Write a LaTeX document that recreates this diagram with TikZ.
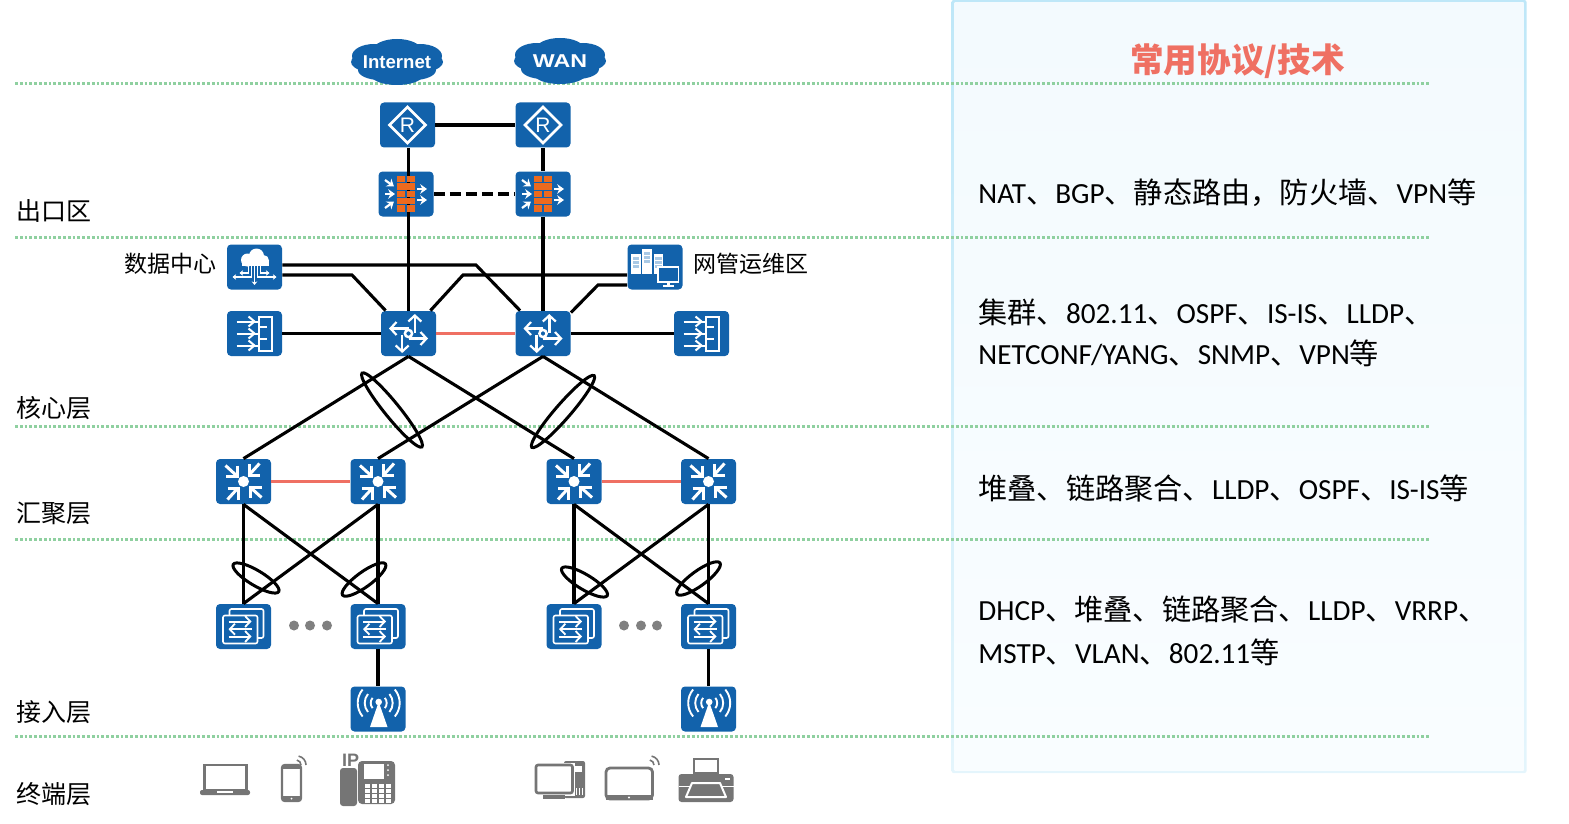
\documentclass[tikz,border=0pt]{standalone}
\usepackage{fontspec}
\setmainfont{Carlito}
\newfontfamily\cjk{Noto Sans CJK SC}
\newfontfamily\arialfont{Liberation Sans}
\usetikzlibrary{arrows.meta}
\newcommand{\zh}[1]{{\cjk #1}}

\definecolor{devblue}{HTML}{1262AB}
\definecolor{wallorange}{HTML}{EC6A1E}
\definecolor{stackred}{HTML}{EF7063}
\definecolor{layergreen}{HTML}{8FD0A0}
\definecolor{termgray}{HTML}{757575}
\definecolor{dotgray}{HTML}{808080}
\definecolor{stripeblue}{HTML}{A9C9E5}
\definecolor{paneledge}{HTML}{BEE7F8}
\definecolor{paneledgelow}{HTML}{E4F5FC}
\definecolor{panelfill}{HTML}{F3FAFE}
\definecolor{panelfilllow}{HTML}{F9FDFF}

\tikzset{
    devbox/.style={rectangle,rounded corners=2pt,fill=devblue,minimum width=27.5pt,minimum height=22.5pt,inner sep=0pt},
    link/.style={draw=black,line width=1.55pt},
    stacklink/.style={draw=stackred,line width=1.6pt},
    lagring/.style={draw=black,line width=1.5pt},
    layerline/.style={draw=layergreen,line width=1.5pt,dash pattern=on 1.4pt off 1pt},
    layerlabel/.style={anchor=west,inner sep=0pt,font=\cjk\fontsize{12.5}{15}\selectfont},
    sidelabel/.style={inner sep=0pt,font=\cjk\fontsize{11.5}{14}\selectfont},
    paneltext/.style={anchor=west,inner sep=0pt,font=\fontsize{14.6}{17}\selectfont},
    cloudtext/.style={inner sep=0pt,text=white,font=\arialfont\bfseries\fontsize{9.3}{11}\selectfont},
    iconline/.style={draw=white,line width=1.25pt},
    thinline/.style={draw=white,line width=0.6pt},
    barb/.style={-{Straight Barb[length=3pt,width=6.5pt,line width=1.1pt]}},
    smallbarb/.style={-{Straight Barb[length=2.6pt,width=5.5pt,line width=0.9pt]}},
    smallhead/.style={-{Stealth[length=3.4pt,width=4.8pt]}},
    tinyhead/.style={-{Stealth[length=1.8pt,width=2.8pt]}},
    % the white drawings that sit on the blue boxes
    cloudshape/.pic={
        \fill[devblue] (0,0) ellipse [x radius=46,y radius=14];
        \fill[devblue] (-23,-6) ellipse [x radius=22,y radius=12];
        \fill[devblue] (23,-6) ellipse [x radius=22,y radius=12];
        \fill[devblue] (0,-12) ellipse [x radius=24,y radius=11];
        \fill[devblue] (-17,8) ellipse [x radius=22,y radius=10];
        \fill[devblue] (17,8) ellipse [x radius=22,y radius=10];
        \fill[devblue] (0,13) ellipse [x radius=26,y radius=10];
    },
    routericon/.pic={
        \draw[iconline,line join=miter] (-18,0) -- (0,-18) -- (18,0) -- (0,18) -- cycle;
        \node[inner sep=0pt,text=white,font=\arialfont\fontsize{10.5}{12}\selectfont] (-letter) at (0,0) {R};
    },
    wallicon/.pic={
        \foreach \y in {-18,-3.4,11.2} {
            \fill[wallorange] (-9,\y) rectangle (-0.7,\y+6.4);
            \fill[wallorange] (0.7,\y) rectangle (9,\y+6.4);
        }
        \foreach \y in {-10.7,3.9} \fill[wallorange] (-9,\y) rectangle (9,\y+6.4);
        \draw[iconline,smallhead,line width=1.1pt] (-21,-14) -- (-12,-7.5);
        \draw[iconline,smallhead,line width=1.1pt] (-21,0) -- (-11,0);
        \draw[iconline,smallhead,line width=1.1pt] (-21,14) -- (-12,7.5);
        \draw[iconline,smallhead,line width=1.1pt] (11,-5) -- (21,-5);
        \draw[iconline,smallhead,line width=1.1pt] (11,6) -- (21,6);
    },
    coreicon/.pic={
        \draw[iconline] (0,0) circle (3.6);
        \draw[iconline,barb] (6.3,-1) -- (6.3,-19.5);
        \draw[iconline,barb] (0,5) -- (19.5,5);
        \draw[iconline,barb] (-6.3,1) -- (-6.3,19.5);
        \draw[iconline,barb] (0,-5) -- (-19.5,-5);
    },
    aggicon/.pic={
        \fill[white] (0,0) circle (5.5);
        \foreach \a in {0,90,180,270} {
            \draw[iconline,line width=1.5pt,rotate=\a,line join=miter] (-6.5,-16) -- (-6.5,-5.5) -- (-18,-5.5);
            \draw[iconline,line width=1.5pt,rotate=\a] (-6.5,-5.5) -- (-18,-16);
        }
    },
    bypassicon/.pic={
        \draw[iconline,line width=1pt] (4,-17) rectangle (17,17);
        \foreach \y in {-12,0,12} {
            \draw[thinline,line width=1pt] (-18,\y) -- (4,\y);
            \draw[thinline,line width=1pt] (-6,\y-5) -- (0,\y) -- (-6,\y+5);
            \draw[thinline,line width=1pt] (4,\y+5) -- (12,\y+5);
        }
    },
    dcicon/.pic={
        \fill[white] (-7,-7) circle (6.5);
        \fill[white] (2,-11) circle (7.5);
        \fill[white] (9,-6.5) circle (5.5);
        \fill[white] (-13,-6) rectangle (14,-1);
        \draw[thinline,tinyhead] (0,-1) -- (0,18);
        \draw[thinline,tinyhead] (-3,-1) -- (-3,10) -- (-22,10);
        \draw[thinline,tinyhead] (3,-1) -- (3,10) -- (22,10);
        \draw[thinline,tinyhead] (-6,-1) -- (-6,6) -- (-15,6);
        \draw[thinline,tinyhead] (6,-1) -- (6,6) -- (15,6);
    },
    opsicon/.pic={
        \foreach \xa/\ya in {-24/-13,-13/-18,-1.5/-13} {
            \fill[white] (\xa,\ya) rectangle (\xa+9.5,7);
            \fill[stripeblue] (\xa+1.5,\ya+3) rectangle (\xa+8,\ya+5.5);
            \fill[stripeblue] (\xa+1.5,\ya+7) rectangle (\xa+8,\ya+9.5);
            \fill[stripeblue] (\xa+1.5,\ya+11) rectangle (\xa+8,\ya+13.5);
        }
        \draw[iconline,line width=0.8pt,fill=devblue] (3,0) rectangle (23.5,15);
        \fill[white] (12,15) rectangle (14.5,18);
        \fill[white] (8,18) rectangle (18.5,19.5);
    },
    stackicon/.pic={
        \draw[thinline,line width=0.8pt,rounded corners=1pt] (-14,-17.5) rectangle (20,11.5);
        \draw[thinline,line width=0.8pt,rounded corners=1pt,fill=devblue] (-20.5,-11) rectangle (14,17);
        \draw[thinline,line width=1pt,smallbarb] (-15,-5) -- (8,-5);
        \draw[thinline,line width=1pt,smallbarb] (8,2.7) -- (-15,2.7);
        \draw[thinline,line width=1pt,smallbarb] (-15,10) -- (8,10);
    },
    apicon/.pic={
        \fill[white] (0.7,-7) circle (3.3);
        \fill[white] (0.7,-7) -- (-8,18) -- (9.5,18) -- cycle;
        \foreach \r in {8,14,21} {
            \draw[thinline,line width=0.95pt] (0.7,-6) ++(-40:\r) arc [start angle=-40,end angle=40,radius=\r];
            \draw[thinline,line width=0.95pt] (0.7,-6) ++(140:\r) arc [start angle=140,end angle=220,radius=\r];
        }
    },
}

\begin{document}
\begin{tikzpicture}[x=0.5pt,y=-0.5pt]
    \useasboundingbox (0,0) rectangle (1569,824);

    % Right panel
    \shade[top color=paneledge,bottom color=paneledgelow,rounded corners=1pt] (951.5,0) rectangle (1526.5,773);
    \shade[top color=panelfill,bottom color=panelfilllow] (954.5,3) rectangle (1523.5,770);

    % Layer separators
    \foreach \y in {83.5,237,426.5,539.5,736} \draw[layerline] (15,\y) -- (1430,\y);

    % Layer names
    \node[layerlabel] (exitname) at (16,211) {出口区};
    \node[layerlabel] (corename) at (16,408) {核心层};
    \node[layerlabel] (aggname) at (16,513) {汇聚层};
    \node[layerlabel] (accname) at (16,712) {接入层};
    \node[layerlabel] (termname) at (16,794) {终端层};

    % Clouds
    \pic at (397,62) {cloudshape};
    \node[cloudtext] (internet) at (397,62) {Internet};
    \pic at (560,61) {cloudshape};
    \node[cloudtext,xscale=1.25] (wan) at (560,61.5) {WAN};

    % Exit routers and firewalls
    \node[devbox] (r1) at (407.5,125) {};
    \node[devbox] (r2) at (543,125) {};
    \node[devbox] (fw1) at (406,194) {};
    \node[devbox] (fw2) at (543,194) {};

    % Core
    \node[devbox] (dc) at (254.5,267) {};
    \node[devbox] (ops) at (655,267) {};
    \node[devbox] (byp1) at (254.5,333.5) {};
    \node[devbox] (core1) at (408.5,333.5) {};
    \node[devbox] (core2) at (543,333.5) {};
    \node[devbox] (byp2) at (701.5,333.5) {};
    \node[sidelabel,anchor=east] (dcname) at (216.5,264) {数据中心};
    \node[sidelabel,anchor=west] (opsname) at (693,264) {网管运维区};

    % Aggregation
    \node[devbox] (agg1) at (243.5,481.5) {};
    \node[devbox] (agg2) at (378,481.5) {};
    \node[devbox] (agg3) at (574,481.5) {};
    \node[devbox] (agg4) at (708.5,481.5) {};

    % Access
    \node[devbox] (acc1) at (243.5,626.5) {};
    \node[devbox] (acc2) at (378,626.5) {};
    \node[devbox] (acc3) at (574,626.5) {};
    \node[devbox] (acc4) at (708.5,626.5) {};
    \node[devbox] (ap1) at (378,709) {};
    \node[devbox] (ap2) at (708.5,709) {};

    % Bends of the side links
    \coordinate (dcbend1) at (476,265);
    \coordinate (dcbend2) at (352,275);
    \coordinate (opsbend1) at (463,275);
    \coordinate (opsbend2) at (598,285);

    % Links
    \draw[link] (r1) -- (r2);
    \draw[link] (r1.south -| core1) -- (fw1.south -| core1);
    \draw[link] (r2) -- (fw2);
    \draw[link,dash pattern=on 5.5pt off 2.5pt] (fw1) -- (fw2);
    \draw[link] (fw1.south -| core1) -- (core1);
    \draw[link] (fw2) -- (core2);
    \draw[link] (dcbend1 -| dc.east) -- (dcbend1) -- ([xshift=2.5pt]core2.north west);
    \draw[link] (dcbend2 -| dc.east) -- (dcbend2) -- ([xshift=2.5pt]core1.north west);
    \draw[link] (opsbend1 -| ops.west) -- (opsbend1) -- ([xshift=-3pt]core1.north east);
    \draw[link] (opsbend2 -| ops.west) -- (opsbend2) -- ([yshift=-1pt]core2.north east);
    \draw[link] (byp1) -- (core1);
    \draw[link] (core2) -- (byp2);
    \draw[stacklink] (core1) -- (core2);
    \draw[link] (core1.south) -- (agg1.north);
    \draw[link] (core1.south) -- (agg3.north);
    \draw[link] (core2.south) -- (agg2.north);
    \draw[link] (core2.south) -- (agg4.north);
    \draw[stacklink] (agg1) -- (agg2);
    \draw[stacklink] (agg3) -- (agg4);
    \foreach \up/\low in {agg1/acc1,agg1/acc2,agg2/acc1,agg2/acc2,agg3/acc3,agg3/acc4,agg4/acc3,agg4/acc4}
        \draw[link] (\up.south) -- (\low.north);
    \draw[link] (acc2) -- (ap1);
    \draw[link] (acc4) -- (ap2);

    % Link aggregation rings
    \draw[lagring,rotate around={-51:(392,410)}] (392,410) ellipse [x radius=47.5,y radius=7.5];
    \draw[lagring,rotate around={49:(563,411.5)}] (563,411.5) ellipse [x radius=47.5,y radius=7.5];
    \draw[lagring,rotate around={-31:(256,578)}] (256,578) ellipse [x radius=26.5,y radius=7.5];
    \draw[lagring,rotate around={36:(364,579.5)}] (364,579.5) ellipse [x radius=26.5,y radius=7.5];
    \draw[lagring,rotate around={-31:(584.5,582)}] (584.5,582) ellipse [x radius=26.5,y radius=7.5];
    \draw[lagring,rotate around={36:(698.5,578.5)}] (698.5,578.5) ellipse [x radius=26.5,y radius=7.5];

    % Icons on the boxes
    \pic (r1i) at (r1) {routericon};
    \pic (r2i) at (r2) {routericon};
    \pic at (fw1) {wallicon};
    \pic at (fw2) {wallicon};
    \pic at (dc) {dcicon};
    \pic at (ops) {opsicon};
    \pic at (byp1) {bypassicon};
    \pic at (byp2) {bypassicon};
    \pic at (core1) {coreicon};
    \pic at (core2) {coreicon};
    \foreach \n in {agg1,agg2,agg3,agg4} \pic at (\n) {aggicon};
    \foreach \n in {acc1,acc2,acc3,acc4} \pic at (\n) {stackicon};
    \pic at (ap1) {apicon};
    \pic at (ap2) {apicon};

    % Dots between the access switches
    \foreach \x in {294,310,327,624,641,657} \fill[dotgray] (\x,625.5) circle (5);

    % Terminals: laptop
    \draw[termgray,line width=1.2pt] (204.5,765) rectangle (246.5,790);
    \fill[termgray,rounded corners=1pt] (200,790) rectangle (250,795);
    \fill[white] (217,790.5) rectangle (233,792.5);

    % Terminals: phone
    \draw[termgray,line width=1.2pt,rounded corners=1.5pt] (282,765) rectangle (301,801);
    \fill[termgray] (282,765) rectangle (301,769);
    \fill[termgray] (282,796) rectangle (301,801);
    \fill[white] (291.5,798.5) circle (1);
    \draw[termgray,line width=0.8pt] (301,765) arc [start angle=0,end angle=-80,radius=5];
    \draw[termgray,line width=0.8pt] (306,765) arc [start angle=0,end angle=-80,radius=9];

    % Terminals: IP phone
    \node[inner sep=0pt,text=termgray,font=\arialfont\bfseries\fontsize{9}{10}\selectfont] (iptext) at (350.5,760) {IP};
    \fill[termgray,rounded corners=1.5pt] (340,768) rectangle (357,806);
    \fill[termgray,rounded corners=2pt] (358,761) rectangle (395,804);
    \fill[white] (364,764) rectangle (384,779);
    \foreach \x in {365,372,379,386} \foreach \y in {784,789,794,799} \fill[white] (\x,\y) rectangle (\x+5,\y+3.5);
    \foreach \y in {765,770,775} \fill[white] (388,\y) circle (1);

    % Terminals: desktop
    \fill[termgray,rounded corners=1pt] (564,761) rectangle (585,798);
    \fill[white] (572,766) rectangle (582,772);
    \foreach \x in {573,576,579,582} \fill[white] (\x,788) rectangle (\x+1,795);
    \fill[white] (533.5,763) rectangle (575,796);
    \draw[termgray,line width=1.3pt,rounded corners=1pt] (536,765) rectangle (572.5,793);
    \fill[termgray] (543,795) rectangle (565,799);

    % Terminals: tablet
    \draw[termgray,line width=1.4pt,rounded corners=2pt] (606,768) rectangle (652.5,799);
    \fill[termgray] (606,795) rectangle (652.5,800);
    \fill[white] (629,797.5) circle (1.2);
    \draw[termgray,line width=0.8pt] (654,765) arc [start angle=0,end angle=-80,radius=5];
    \draw[termgray,line width=0.8pt] (659,765) arc [start angle=0,end angle=-80,radius=9];

    % Terminals: printer
    \draw[termgray,line width=1pt] (694,759) rectangle (718,773);
    \fill[termgray,rounded corners=1.5pt] (678.5,774) rectangle (733.5,802);
    \draw[white,line width=0.5pt] (678.5,786) -- (690,786);
    \draw[white,line width=0.5pt] (722,786) -- (733.5,786);
    \draw[white,line width=1pt,line join=round] (692,783) -- (720,783) -- (726,797) -- (686,797) -- cycle;
    \fill[white] (725,778) rectangle (730,780);

    % Right panel texts
    \node[inner sep=0pt,text=stackred,font=\cjk\bfseries\fontsize{16.8}{20}\selectfont] (paneltitle) at (1237.5,61) {常用协议/技术};
    \node[paneltext] (exittext) at (978,193) {NAT\zh{、}BGP\zh{、静态路由，防火墙、}VPN\zh{等}};
    \node[paneltext] (coretext1) at (978,312) {\zh{集群、}802.11\zh{、}OSPF\zh{、}IS-IS\zh{、}LLDP\zh{、}};
    \node[paneltext] (coretext2) at (978,353) {NETCONF/YANG\zh{、}SNMP\zh{、}VPN\zh{等}};
    \node[paneltext] (aggtext) at (978,488) {\zh{堆叠、链路聚合、}LLDP\zh{、}OSPF\zh{、}IS-IS\zh{等}};
    \node[paneltext] (acctext1) at (978,610) {DHCP\zh{、堆叠、链路聚合、}LLDP\zh{、}VRRP\zh{、}};
    \node[paneltext] (acctext2) at (978,652) {MSTP\zh{、}VLAN\zh{、}802.11\zh{等}};
\end{tikzpicture}
\end{document}
